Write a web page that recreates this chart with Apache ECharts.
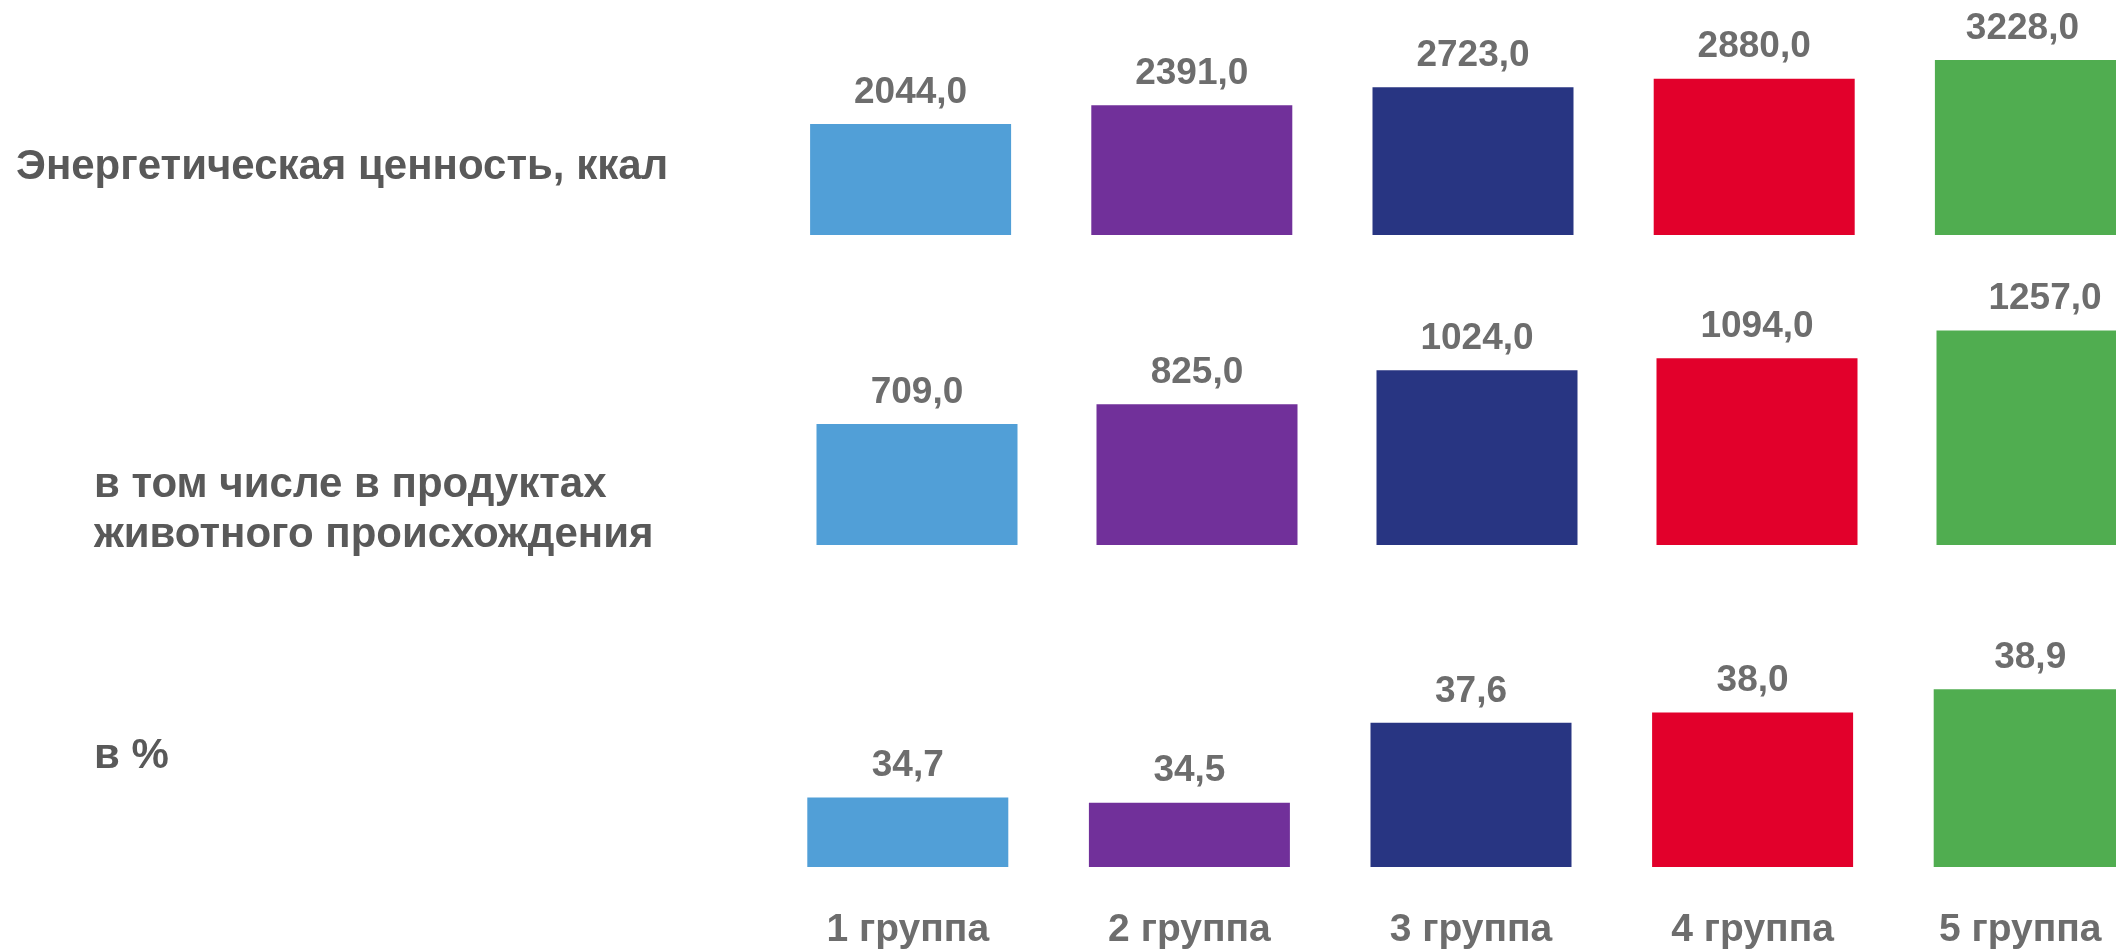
<!DOCTYPE html>
<html>
<head>
<meta charset="utf-8">
<script src="https://cdn.jsdelivr.net/npm/echarts@6/dist/echarts.min.js"></script>
<style>
    html, body { margin: 0; padding: 0; background: #fff; }
    #chart { width: 2116px; height: 950px; }
</style>
</head>
<body>
<div id="chart"></div>
<script>
const groups = ['1 группа', '2 группа', '3 группа', '4 группа', '5 группа'];
const rowTitles = [
    'Энергетическая ценность, ккал',
    'в том числе в продуктах\nживотного происхождения',
    'в %'
];
const energyKcal = [2044.0, 2391.0, 2723.0, 2880.0, 3228.0];
const animalKcal = [709.0, 825.0, 1024.0, 1094.0, 1257.0];
const animalPct = [34.7, 34.5, 37.6, 38.0, 38.9];

const barColors = ['#519fd7', '#71309a', '#283582', '#e2002b', '#50ad50'];
const valueColor = '#6d6d6d';
const titleColor = '#595959';
const fontFamily = '"Liberation Sans", Arial, sans-serif';

// one grid per row, the last bar runs off the right edge like in the source
// lastShift: the label over the cut-off last bar sits a bit off-centre
const rows = [
    { data: energyKcal, min: 0, max: 4000, lastShift: -13, grid: { left: 770, width: 1406, top: 18, height: 217 } },
    { data: animalKcal, min: 0, max: 1500, lastShift: 8, grid: { left: 777, width: 1400, top: 289, height: 256 } },
    { data: animalPct, min: 32, max: 40, lastShift: -4, grid: { left: 767, width: 1408, top: 661, height: 206 } }
];

const chart = echarts.init(document.getElementById('chart'));

const option = {
    animation: false,
    title: [
        { text: rowTitles[0], left: 11, top: 141 },
        { text: rowTitles[1], left: 89, top: 455, textStyle: { lineHeight: 50 } },
        { text: rowTitles[2], left: 89, top: 730 }
    ].map(t => ({
        ...t,
        textStyle: Object.assign({
            color: titleColor,
            fontSize: 42,
            fontWeight: 'bold',
            fontFamily: fontFamily
        }, t.textStyle || {})
    })),
    grid: rows.map(r => Object.assign({ outerBoundsMode: 'none' }, r.grid)),
    xAxis: rows.map((r, i) => ({
        type: 'category',
        gridIndex: i,
        data: groups.map((g, j) => j === groups.length - 1
            ? { value: g, textStyle: { padding: [0, 28, 0, 0] } }
            : g),
        axisLine: { show: false },
        axisTick: { show: false },
        axisLabel: {
            show: i === 2,
            margin: 44,
            color: valueColor,
            fontSize: 39,
            fontWeight: 'bold',
            fontFamily: fontFamily
        }
    })),
    yAxis: rows.map((r, i) => ({
        type: 'value',
        gridIndex: i,
        min: r.min,
        max: r.max,
        show: false,
        splitLine: { show: false }
    })),
    series: rows.map((r, i) => ({
        type: 'bar',
        xAxisIndex: i,
        yAxisIndex: i,
        barWidth: 201,
        data: r.data.map((v, j) => {
            const item = { value: v, itemStyle: { color: barColors[j] } };
            if (j === r.data.length - 1) item.label = { offset: [r.lastShift, 0] };
            return item;
        }),
        label: {
            show: true,
            position: 'top',
            distance: 13,
            color: valueColor,
            fontSize: 37,
            fontWeight: 'bold',
            fontFamily: fontFamily,
            formatter: p => p.value.toFixed(1).replace('.', ',')
        }
    }))
};

chart.setOption(option);
</script>
</body>
</html>
